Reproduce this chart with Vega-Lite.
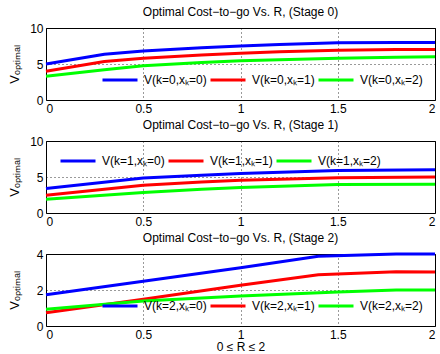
{
  "$schema": "https://vega.github.io/schema/vega-lite/v6.json",
  "padding": {"left": 8, "top": 5, "right": 2, "bottom": 0},
  "background": "white",
  "bounds": "flush",
  "spacing": 41,
  "config": {
    "font": "Liberation Sans",
    "view": {"stroke": "black", "strokeWidth": 1},
    "title": {"fontSize": 12, "fontWeight": "normal", "color": "black", "offset": 3},
    "axis": {
      "domain": false,
      "grid": true,
      "gridColor": "black",
      "gridDash": [1, 3],
      "gridWidth": 0.8,
      "gridOpacity": 1,
      "ticks": false,
      "labelColor": "black",
      "labelFontSize": 12,
      "labelFont": "Liberation Sans",
      "titleFont": "Liberation Sans",
      "titleFontWeight": "normal",
      "titleColor": "black",
      "titleFontSize": 13,
      "format": "~r"
    },
    "legend": {
      "padding": 0,
      "labelFont": "Liberation Sans",
      "labelFontSize": 12,
      "labelColor": "black",
      "symbolType": "stroke",
      "symbolSize": 1225,
      "symbolStrokeWidth": 3,
      "labelOffset": 5,
      "columnPadding": -3,
      "orient": "none",
      "direction": "horizontal",
      "columns": 3,
      "title": null
    }
  },
  "data": {"values": [
    {"stage": 0, "series": "V(k=0,xₖ=0)", "R": 0, "V": 5},
    {"stage": 0, "series": "V(k=0,xₖ=0)", "R": 0.3, "V": 6.35},
    {"stage": 0, "series": "V(k=0,xₖ=0)", "R": 0.5, "V": 6.8},
    {"stage": 0, "series": "V(k=0,xₖ=0)", "R": 0.8, "V": 7.25},
    {"stage": 0, "series": "V(k=0,xₖ=0)", "R": 1, "V": 7.5},
    {"stage": 0, "series": "V(k=0,xₖ=0)", "R": 1.2, "V": 7.7},
    {"stage": 0, "series": "V(k=0,xₖ=0)", "R": 1.5, "V": 7.95},
    {"stage": 0, "series": "V(k=0,xₖ=0)", "R": 1.8, "V": 8},
    {"stage": 0, "series": "V(k=0,xₖ=0)", "R": 2, "V": 8},
    {"stage": 0, "series": "V(k=0,xₖ=1)", "R": 0, "V": 4},
    {"stage": 0, "series": "V(k=0,xₖ=1)", "R": 0.3, "V": 5.35},
    {"stage": 0, "series": "V(k=0,xₖ=1)", "R": 0.5, "V": 5.8},
    {"stage": 0, "series": "V(k=0,xₖ=1)", "R": 0.8, "V": 6.25},
    {"stage": 0, "series": "V(k=0,xₖ=1)", "R": 1, "V": 6.5},
    {"stage": 0, "series": "V(k=0,xₖ=1)", "R": 1.2, "V": 6.7},
    {"stage": 0, "series": "V(k=0,xₖ=1)", "R": 1.5, "V": 6.9},
    {"stage": 0, "series": "V(k=0,xₖ=1)", "R": 1.8, "V": 7},
    {"stage": 0, "series": "V(k=0,xₖ=1)", "R": 2, "V": 7},
    {"stage": 0, "series": "V(k=0,xₖ=2)", "R": 0, "V": 3.3},
    {"stage": 0, "series": "V(k=0,xₖ=2)", "R": 0.3, "V": 4.2},
    {"stage": 0, "series": "V(k=0,xₖ=2)", "R": 0.5, "V": 4.75},
    {"stage": 0, "series": "V(k=0,xₖ=2)", "R": 0.8, "V": 5.2},
    {"stage": 0, "series": "V(k=0,xₖ=2)", "R": 1, "V": 5.45},
    {"stage": 0, "series": "V(k=0,xₖ=2)", "R": 1.2, "V": 5.6},
    {"stage": 0, "series": "V(k=0,xₖ=2)", "R": 1.5, "V": 5.8},
    {"stage": 0, "series": "V(k=0,xₖ=2)", "R": 1.8, "V": 5.95},
    {"stage": 0, "series": "V(k=0,xₖ=2)", "R": 2, "V": 6},
    {"stage": 1, "series": "V(k=1,xₖ=0)", "R": 0, "V": 3.4},
    {"stage": 1, "series": "V(k=1,xₖ=0)", "R": 0.5, "V": 4.85},
    {"stage": 1, "series": "V(k=1,xₖ=0)", "R": 0.8, "V": 5.25},
    {"stage": 1, "series": "V(k=1,xₖ=0)", "R": 1, "V": 5.5},
    {"stage": 1, "series": "V(k=1,xₖ=0)", "R": 1.5, "V": 5.9},
    {"stage": 1, "series": "V(k=1,xₖ=0)", "R": 2, "V": 6},
    {"stage": 1, "series": "V(k=1,xₖ=1)", "R": 0, "V": 2.45},
    {"stage": 1, "series": "V(k=1,xₖ=1)", "R": 0.5, "V": 3.85},
    {"stage": 1, "series": "V(k=1,xₖ=1)", "R": 0.8, "V": 4.3},
    {"stage": 1, "series": "V(k=1,xₖ=1)", "R": 1, "V": 4.55},
    {"stage": 1, "series": "V(k=1,xₖ=1)", "R": 1.5, "V": 4.9},
    {"stage": 1, "series": "V(k=1,xₖ=1)", "R": 2, "V": 5},
    {"stage": 1, "series": "V(k=1,xₖ=2)", "R": 0, "V": 1.9},
    {"stage": 1, "series": "V(k=1,xₖ=2)", "R": 0.5, "V": 2.85},
    {"stage": 1, "series": "V(k=1,xₖ=2)", "R": 0.8, "V": 3.3},
    {"stage": 1, "series": "V(k=1,xₖ=2)", "R": 1, "V": 3.55},
    {"stage": 1, "series": "V(k=1,xₖ=2)", "R": 1.5, "V": 3.95},
    {"stage": 1, "series": "V(k=1,xₖ=2)", "R": 2, "V": 4},
    {"stage": 2, "series": "V(k=2,xₖ=0)", "R": 0, "V": 1.74},
    {"stage": 2, "series": "V(k=2,xₖ=0)", "R": 0.5, "V": 2.48},
    {"stage": 2, "series": "V(k=2,xₖ=0)", "R": 1, "V": 3.24},
    {"stage": 2, "series": "V(k=2,xₖ=0)", "R": 1.4, "V": 3.87},
    {"stage": 2, "series": "V(k=2,xₖ=0)", "R": 1.8, "V": 4},
    {"stage": 2, "series": "V(k=2,xₖ=0)", "R": 2, "V": 4},
    {"stage": 2, "series": "V(k=2,xₖ=1)", "R": 0, "V": 0.74},
    {"stage": 2, "series": "V(k=2,xₖ=1)", "R": 0.5, "V": 1.48},
    {"stage": 2, "series": "V(k=2,xₖ=1)", "R": 1, "V": 2.26},
    {"stage": 2, "series": "V(k=2,xₖ=1)", "R": 1.4, "V": 2.85},
    {"stage": 2, "series": "V(k=2,xₖ=1)", "R": 1.8, "V": 3.02},
    {"stage": 2, "series": "V(k=2,xₖ=1)", "R": 2, "V": 3},
    {"stage": 2, "series": "V(k=2,xₖ=2)", "R": 0, "V": 0.93},
    {"stage": 2, "series": "V(k=2,xₖ=2)", "R": 0.5, "V": 1.39},
    {"stage": 2, "series": "V(k=2,xₖ=2)", "R": 1, "V": 1.67},
    {"stage": 2, "series": "V(k=2,xₖ=2)", "R": 1.5, "V": 1.89},
    {"stage": 2, "series": "V(k=2,xₖ=2)", "R": 1.8, "V": 2},
    {"stage": 2, "series": "V(k=2,xₖ=2)", "R": 2, "V": 2}
  ]},
  "resolve": {"scale": {"color": "independent", "y": "independent"}, "legend": {"color": "independent"}},
  "vconcat": [
    {
      "width": 389, "height": 72,
      "title": "Optimal Cost−to−go Vs. R, (Stage 0)",
      "transform": [{"filter": "datum.stage == 0"}],
      "mark": {"type": "line", "strokeWidth": 3},
      "encoding": {
        "x": {"field": "R", "type": "quantitative", "scale": {"domain": [0, 2], "nice": false}, "axis": {"title": null, "values": [0, 0.5, 1, 1.5, 2], "labelPadding": 3}},
        "y": {"field": "V", "type": "quantitative", "scale": {"domain": [0, 10], "nice": false}, "axis": {"title": "Vₒₚₜᵢₘₐₗ", "values": [0, 5, 10], "labelPadding": 3, "titlePadding": 8}},
        "color": {"field": "series", "type": "nominal", "scale": {"domain": ["V(k=0,xₖ=0)", "V(k=0,xₖ=1)", "V(k=0,xₖ=2)"], "range": ["#0000ff", "#ff0000", "#00ff00"]}, "legend": {"legendX": 55, "legendY": 33}}
      }
    },
    {
      "width": 389, "height": 72,
      "title": "Optimal Cost−to−go Vs. R, (Stage 1)",
      "transform": [{"filter": "datum.stage == 1"}],
      "mark": {"type": "line", "strokeWidth": 3},
      "encoding": {
        "x": {"field": "R", "type": "quantitative", "scale": {"domain": [0, 2], "nice": false}, "axis": {"title": null, "values": [0, 0.5, 1, 1.5, 2], "labelPadding": 3}},
        "y": {"field": "V", "type": "quantitative", "scale": {"domain": [0, 10], "nice": false}, "axis": {"title": "Vₒₚₜᵢₘₐₗ", "values": [0, 5, 10], "labelPadding": 3, "titlePadding": 8}},
        "color": {"field": "series", "type": "nominal", "scale": {"domain": ["V(k=1,xₖ=0)", "V(k=1,xₖ=1)", "V(k=1,xₖ=2)"], "range": ["#0000ff", "#ff0000", "#00ff00"]}, "legend": {"legendX": 13, "legendY": 1}}
      }
    },
    {
      "width": 389, "height": 72,
      "title": "Optimal Cost−to−go Vs. R, (Stage 2)",
      "transform": [{"filter": "datum.stage == 2"}],
      "mark": {"type": "line", "strokeWidth": 3},
      "encoding": {
        "x": {"field": "R", "type": "quantitative", "scale": {"domain": [0, 2], "nice": false}, "axis": {"title": "0 ≤ R ≤ 2", "titleFontSize": 12, "values": [0, 0.5, 1, 1.5, 2], "labelPadding": 3, "titlePadding": 1}},
        "y": {"field": "V", "type": "quantitative", "scale": {"domain": [0, 4], "nice": false}, "axis": {"title": "Vₒₚₜᵢₘₐₗ", "values": [0, 2, 4], "labelPadding": 3, "titlePadding": 14.6}},
        "color": {"field": "series", "type": "nominal", "scale": {"domain": ["V(k=2,xₖ=0)", "V(k=2,xₖ=1)", "V(k=2,xₖ=2)"], "range": ["#0000ff", "#ff0000", "#00ff00"]}, "legend": {"legendX": 55, "legendY": 33}}
      }
    }
  ]
}
